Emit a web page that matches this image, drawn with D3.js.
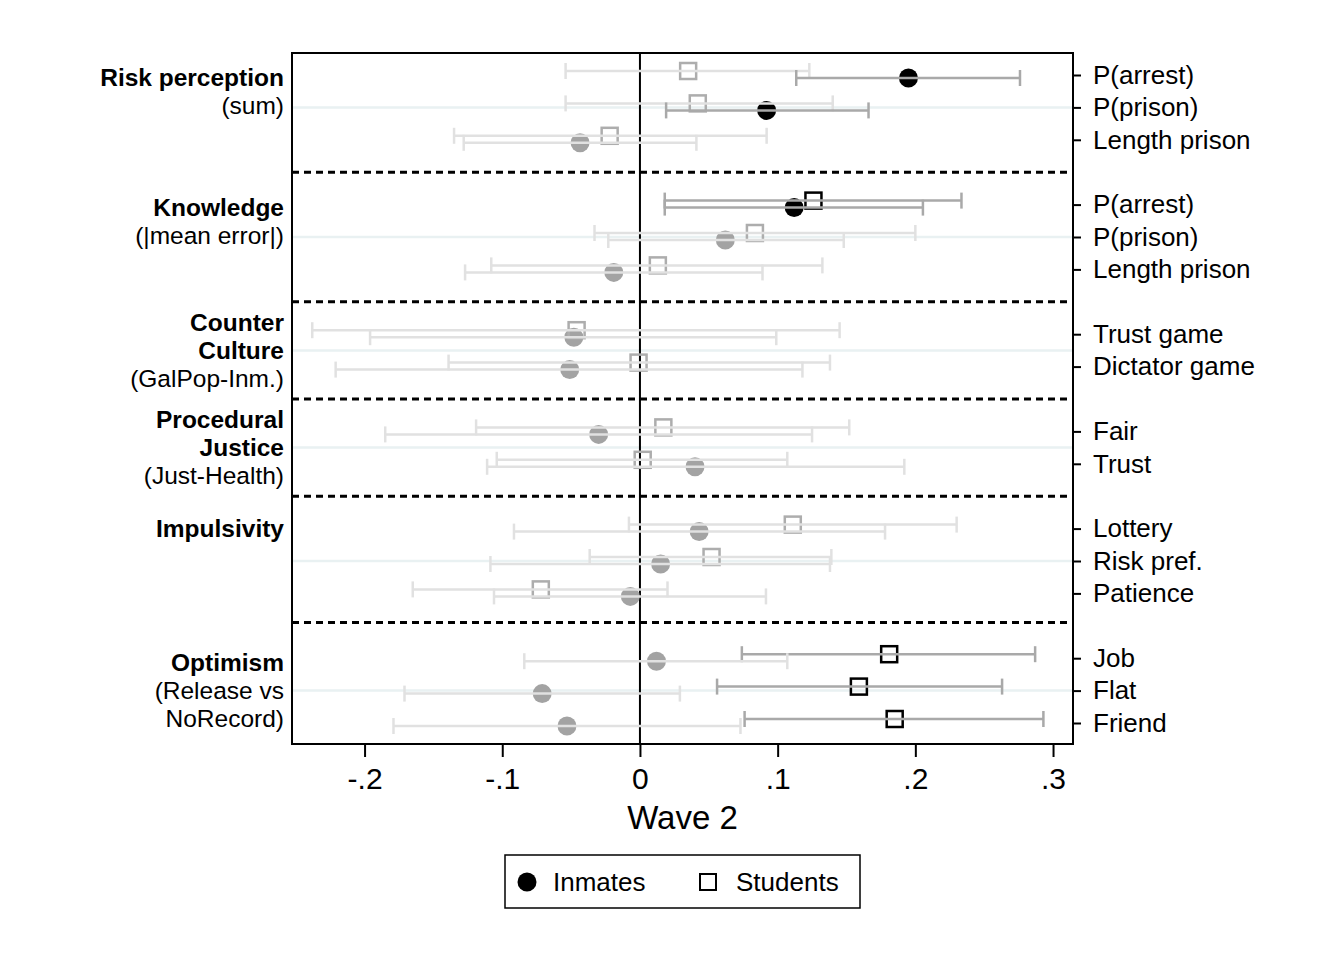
<!DOCTYPE html>
<html>
<head>
<meta charset="utf-8">
<script src="https://cdn.jsdelivr.net/npm/d3@7"></script>
<style>
  body { margin: 0; background: #fff; }
  text { font-family: "Liberation Sans", Arial, Helvetica, sans-serif; fill: #000; }
</style>
</head>
<body>
<div id="chart"></div>
<script>
let width = 1343;
let height = 965;
let margin = { top: 53, right: 270, bottom: 221, left: 292 };

// row labels (right side) and the slot each row sits in
let rowLabels = ["P(arrest)", "P(prison)", "Length prison",
  "P(arrest)", "P(prison)", "Length prison",
  "Trust game", "Dictator game",
  "Fair", "Trust",
  "Lottery", "Risk pref.", "Patience",
  "Job", "Flat", "Friend"];
let rowSlots = [0, 1, 2, 4, 5, 6, 8, 9, 11, 12, 14, 15, 16, 18, 19, 20];

// Inmates: estimate, ci low, ci high, significant
let inmatesEst = [0.195, 0.092, -0.0435, 0.112, 0.062, -0.019, -0.048, -0.051, -0.030, 0.040, 0.043, 0.015, -0.007, 0.012, -0.071, -0.053];
let inmatesLo = [0.1135, 0.019, -0.128, 0.018, -0.023, -0.127, -0.196, -0.221, -0.185, -0.111, -0.0915, -0.1086, -0.106, -0.084, -0.171, -0.179];
let inmatesHi = [0.276, 0.166, 0.041, 0.2055, 0.148, 0.089, 0.099, 0.118, 0.125, 0.192, 0.178, 0.138, 0.0915, 0.107, 0.029, 0.073];
let inmatesSig = [1, 1, 0, 1, 0, 0, 0, 0, 0, 0, 0, 0, 0, 0, 0, 0];

// Students
let studentsEst = [0.035, 0.042, -0.022, 0.126, 0.0835, 0.013, -0.046, -0.001, 0.017, 0.002, 0.111, 0.052, -0.072, 0.181, 0.159, 0.185];
let studentsLo = [-0.054, -0.054, -0.135, 0.018, -0.033, -0.108, -0.238, -0.139, -0.119, -0.104, -0.008, -0.0365, -0.165, 0.074, 0.056, 0.076];
let studentsHi = [0.123, 0.140, 0.092, 0.2335, 0.200, 0.1325, 0.145, 0.138, 0.152, 0.107, 0.230, 0.139, 0.020, 0.287, 0.263, 0.293];
let studentsSig = [0, 0, 0, 1, 0, 0, 0, 0, 0, 0, 0, 0, 0, 1, 1, 1];

// groups on the left
let groupLines = [
  [["Risk perception", true], ["(sum)", false]],
  [["Knowledge", true], ["(|mean error|)", false]],
  [["Counter", true], ["Culture", true], ["(GalPop-Inm.)", false]],
  [["Procedural", true], ["Justice", true], ["(Just-Health)", false]],
  [["Impulsivity", true]],
  [["Optimism", true], ["(Release vs", false], ["NoRecord)", false]]
];
let groupLabelSlot = [0.5, 4.5, 8.5, 11.5, 14, 19];
let groupMidSlot = [1, 5, 8.5, 11.5, 15, 19];
let separatorSlots = [3, 7, 10, 13, 16.9];

let xTicks = [-0.2, -0.1, 0, 0.1, 0.2, 0.3];
let xTickLabels = ["-.2", "-.1", "0", ".1", ".2", ".3"];

let svg = d3.select("#chart").append("svg").attr("width", width).attr("height", height);
svg.append("rect").attr("width", width).attr("height", height).attr("fill", "#fff");

let plotLeft = margin.left, plotRight = width - margin.right;
let plotTop = margin.top, plotBottom = height - margin.bottom;

let xScale = d3.scaleLinear().domain([-0.2527, 0.3145]).range([plotLeft, plotRight]);
let yScale = d3.scaleLinear().domain([0, 20]).range([75, 723]);

let darkLine = "#a9a9a9", lightLine = "#e1e1e1";

// light gridlines at group middles
svg.selectAll(".grid").data(groupMidSlot).enter().append("line")
  .attr("x1", plotLeft).attr("x2", plotRight)
  .attr("y1", d => yScale(d)).attr("y2", d => yScale(d))
  .attr("stroke", "#e9f1f2").attr("stroke-width", 2.5);

// zero line
svg.append("line")
  .attr("x1", xScale(0)).attr("x2", xScale(0))
  .attr("y1", plotTop).attr("y2", plotBottom)
  .attr("stroke", "#000").attr("stroke-width", 2);

// dashed separators
svg.selectAll(".sep").data(separatorSlots).enter().append("line")
  .attr("x1", plotLeft).attr("x2", plotRight)
  .attr("y1", d => yScale(d)).attr("y2", d => yScale(d))
  .attr("stroke", "#000").attr("stroke-width", 3)
  .attr("stroke-dasharray", "7,5");

let inmates = rowSlots.map((s, i) => ({ slot: s, est: inmatesEst[i], lo: inmatesLo[i], hi: inmatesHi[i], sig: inmatesSig[i], dy: 3 }));
let students = rowSlots.map((s, i) => ({ slot: s, est: studentsEst[i], lo: studentsLo[i], hi: studentsHi[i], sig: studentsSig[i], dy: -4 }));

// markers first, CI lines drawn over them
svg.selectAll(".inm").data(inmates).enter().append("circle")
  .attr("cx", d => xScale(d.est))
  .attr("cy", d => yScale(d.slot) + d.dy)
  .attr("r", 9.5)
  .attr("fill", d => d.sig ? "#000" : "#a3a3a3");

let sq = 16;
svg.selectAll(".stu").data(students).enter().append("rect")
  .attr("x", d => xScale(d.est) - sq / 2)
  .attr("y", d => yScale(d.slot) + d.dy - sq / 2)
  .attr("width", sq).attr("height", sq)
  .attr("fill", "none")
  .attr("stroke", d => d.sig ? "#000" : "#adadad")
  .attr("stroke-width", 2.5);

function drawCI(data, cls) {
  let g = svg.selectAll("." + cls).data(data).enter().append("g");
  g.append("line")
    .attr("x1", d => xScale(d.lo)).attr("x2", d => xScale(d.hi))
    .attr("y1", d => yScale(d.slot) + d.dy).attr("y2", d => yScale(d.slot) + d.dy)
    .attr("stroke", d => d.sig ? darkLine : lightLine).attr("stroke-width", 2.5);
  [d => d.lo, d => d.hi].forEach(f => {
    g.append("line")
      .attr("x1", d => xScale(f(d))).attr("x2", d => xScale(f(d)))
      .attr("y1", d => yScale(d.slot) + d.dy - 8).attr("y2", d => yScale(d.slot) + d.dy + 8)
      .attr("stroke", d => d.sig ? darkLine : lightLine).attr("stroke-width", 2.5);
  });
}
drawCI(students, "ciS");
drawCI(inmates, "ciI");

// frame
svg.append("rect")
  .attr("x", plotLeft).attr("y", plotTop)
  .attr("width", plotRight - plotLeft).attr("height", plotBottom - plotTop)
  .attr("fill", "none").attr("stroke", "#000").attr("stroke-width", 2);

// x axis
let xAxis = d3.axisBottom(xScale).tickValues(xTicks).tickSize(13).tickPadding(11)
  .tickFormat((d, i) => xTickLabels[i]);
let gx = svg.append("g").attr("transform", "translate(0," + plotBottom + ")").call(xAxis);
gx.select(".domain").remove();
gx.selectAll(".tick line").attr("stroke", "#000").attr("stroke-width", 2);
gx.selectAll(".tick text").attr("font-size", 30).attr("fill", "#000")
  .style("font-family", '"Liberation Sans", Arial, sans-serif');

svg.append("text").attr("x", (plotLeft + plotRight) / 2).attr("y", 829)
  .attr("text-anchor", "middle").attr("font-size", 33).text("Wave 2");

// right axis with row labels
let yAxis = d3.axisRight(yScale).tickValues(rowSlots).tickSize(8).tickPadding(12)
  .tickFormat((d, i) => rowLabels[i]);
let gy = svg.append("g").attr("transform", "translate(" + plotRight + ",0)").call(yAxis);
gy.select(".domain").remove();
gy.selectAll(".tick line").attr("stroke", "#000").attr("stroke-width", 2);
gy.selectAll(".tick text").attr("font-size", 26).attr("fill", "#000")
  .style("font-family", '"Liberation Sans", Arial, sans-serif');

// group labels on the left
groupLines.forEach((lines, gi) => {
  let cy = yScale(groupLabelSlot[gi]);
  let n = lines.length;
  lines.forEach((l, li) => {
    svg.append("text")
      .attr("x", 284)
      .attr("y", cy + (li - (n - 1) / 2) * 28)
      .attr("dy", "0.36em")
      .attr("text-anchor", "end")
      .attr("font-size", 24.5)
      .attr("font-weight", l[1] ? "bold" : "normal")
      .text(l[0]);
  });
});

// legend
let legend = svg.append("g");
legend.append("rect").attr("x", 505).attr("y", 855).attr("width", 355).attr("height", 53)
  .attr("fill", "#fff").attr("stroke", "#000").attr("stroke-width", 1.5);
legend.append("circle").attr("cx", 527).attr("cy", 882).attr("r", 9.5).attr("fill", "#000");
legend.append("text").attr("x", 553).attr("y", 882).attr("dy", "0.36em").attr("font-size", 26).text("Inmates");
legend.append("rect").attr("x", 700).attr("y", 874).attr("width", 16).attr("height", 16)
  .attr("fill", "none").attr("stroke", "#000").attr("stroke-width", 2);
legend.append("text").attr("x", 736).attr("y", 882).attr("dy", "0.36em").attr("font-size", 26).text("Students");
</script>
</body>
</html>
